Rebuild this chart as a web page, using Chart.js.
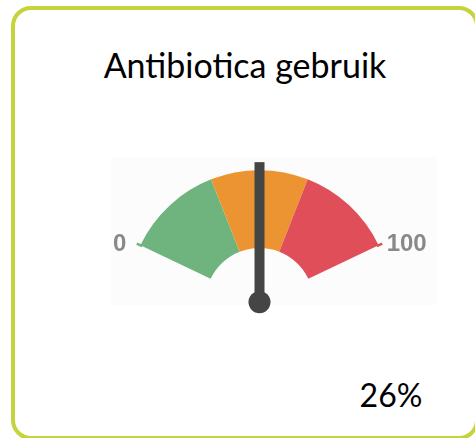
<!DOCTYPE html>
<html>
<head>
<meta charset="utf-8">
<title>Antibiotica gebruik</title>
<script src="https://cdn.jsdelivr.net/npm/chart.js@4.4.0/dist/chart.umd.min.js"></script>
<style>
  html, body { margin: 0; padding: 0; background: #fff; width: 475px; height: 438px; overflow: hidden; }
  .card { position: absolute; left: 11px; top: 6px; width: 468px; height: 434px; box-sizing: border-box;
          border: 4px solid #c5d43c; border-radius: 20px; }
  .title { position: absolute; left: 11px; width: 468px; top: 48px; text-align: center;
           font-family: Lato, "Open Sans", sans-serif; font-size: 34px; line-height: 34px; color: #000; }
  .value { position: absolute; left: 341px; width: 100px; top: 379px; text-align: center;
           font-family: Lato, "Open Sans", sans-serif; font-size: 32px; line-height: 32px; color: #000; }
  .backdrop { position: absolute; left: 111px; top: 157px; width: 326px; height: 148px; background: #fcfcfc; }
  .gauge { position: absolute; left: 80px; top: 120px; width: 359px; height: 209px; }
</style>
</head>
<body>
<div class="card"></div>
<div class="title" id="title"></div>
<div class="backdrop"></div>
<div class="gauge"><canvas id="gaugeChart"></canvas></div>
<div class="value" id="value"></div>

<script>
const chartTitle = 'Antibiotica gebruik';
const zoneLabels = ['Laag', 'Midden', 'Hoog'];
const zoneValues = [33.3, 33.3, 33.4];
const scaleLabels = ['0', '100'];
const gaugeMin = 0;
const gaugeMax = 100;
const needleValue = 50;
const displayValue = '26%';

document.addEventListener('DOMContentLoaded', () => {
    document.getElementById('title').textContent = chartTitle;
    document.getElementById('value').textContent = displayValue;

    const zoneColors = ['#6fb47f', '#ec9431', '#e04f59'];

    // needle, end ticks and min/max labels
    const gaugeExtras = {
        id: 'gaugeExtras',
        afterDatasetsDraw(chart) {
            const ctx = chart.ctx;
            const arcs = chart.getDatasetMeta(0).data;
            const first = arcs[0];
            const last = arcs[arcs.length - 1];
            const cx = first.x, cy = first.y, r = first.outerRadius;
            const a0 = first.startAngle, a1 = last.endAngle;

            ctx.save();
            // small ticks on the ends of the arc
            ctx.lineWidth = 2.5;
            [[a0, zoneColors[0]], [a1, zoneColors[zoneColors.length - 1]]].forEach(([a, c]) => {
                ctx.strokeStyle = c;
                ctx.beginPath();
                ctx.moveTo(cx + (r - 2) * Math.cos(a), cy + (r - 2) * Math.sin(a));
                ctx.lineTo(cx + (r + 4) * Math.cos(a), cy + (r + 4) * Math.sin(a));
                ctx.stroke();
            });

            // min / max labels
            ctx.font = 'bold 24px "Liberation Sans", Arial, sans-serif';
            ctx.fillStyle = '#898989';
            ctx.textBaseline = 'alphabetic';
            const ly = cy + r * Math.sin(a0) + 6;
            ctx.textAlign = 'right';
            ctx.fillText(scaleLabels[0], cx + r * Math.cos(a0) - 14, ly);
            ctx.textAlign = 'left';
            ctx.fillText(scaleLabels[1], cx + r * Math.cos(a1) + 8, ly);

            // needle
            const ang = a0 + (needleValue - gaugeMin) / (gaugeMax - gaugeMin) * (a1 - a0);
            ctx.translate(cx, cy);
            ctx.rotate(ang + Math.PI / 2);
            ctx.fillStyle = '#454545';
            ctx.fillRect(-5, -(r + 8), 10, r + 8);
            ctx.beginPath();
            ctx.arc(0, 0, 11, 0, Math.PI * 2);
            ctx.fill();
            ctx.restore();
        }
    };

    const gaugeCtx = document.getElementById('gaugeChart').getContext('2d');
    new Chart(gaugeCtx, {
        type: 'doughnut',
        data: {
            labels: zoneLabels,
            datasets: [{
                data: zoneValues,
                backgroundColor: zoneColors,
                borderWidth: 0
            }]
        },
        options: {
            responsive: true,
            maintainAspectRatio: false,
            animation: false,
            events: [],
            rotation: -64.5,
            circumference: 129,
            cutout: '41%',
            radius: 132,
            plugins: {
                legend: { display: false },
                tooltip: { enabled: false }
            }
        },
        plugins: [gaugeExtras]
    });
});
</script>
</body>
</html>
